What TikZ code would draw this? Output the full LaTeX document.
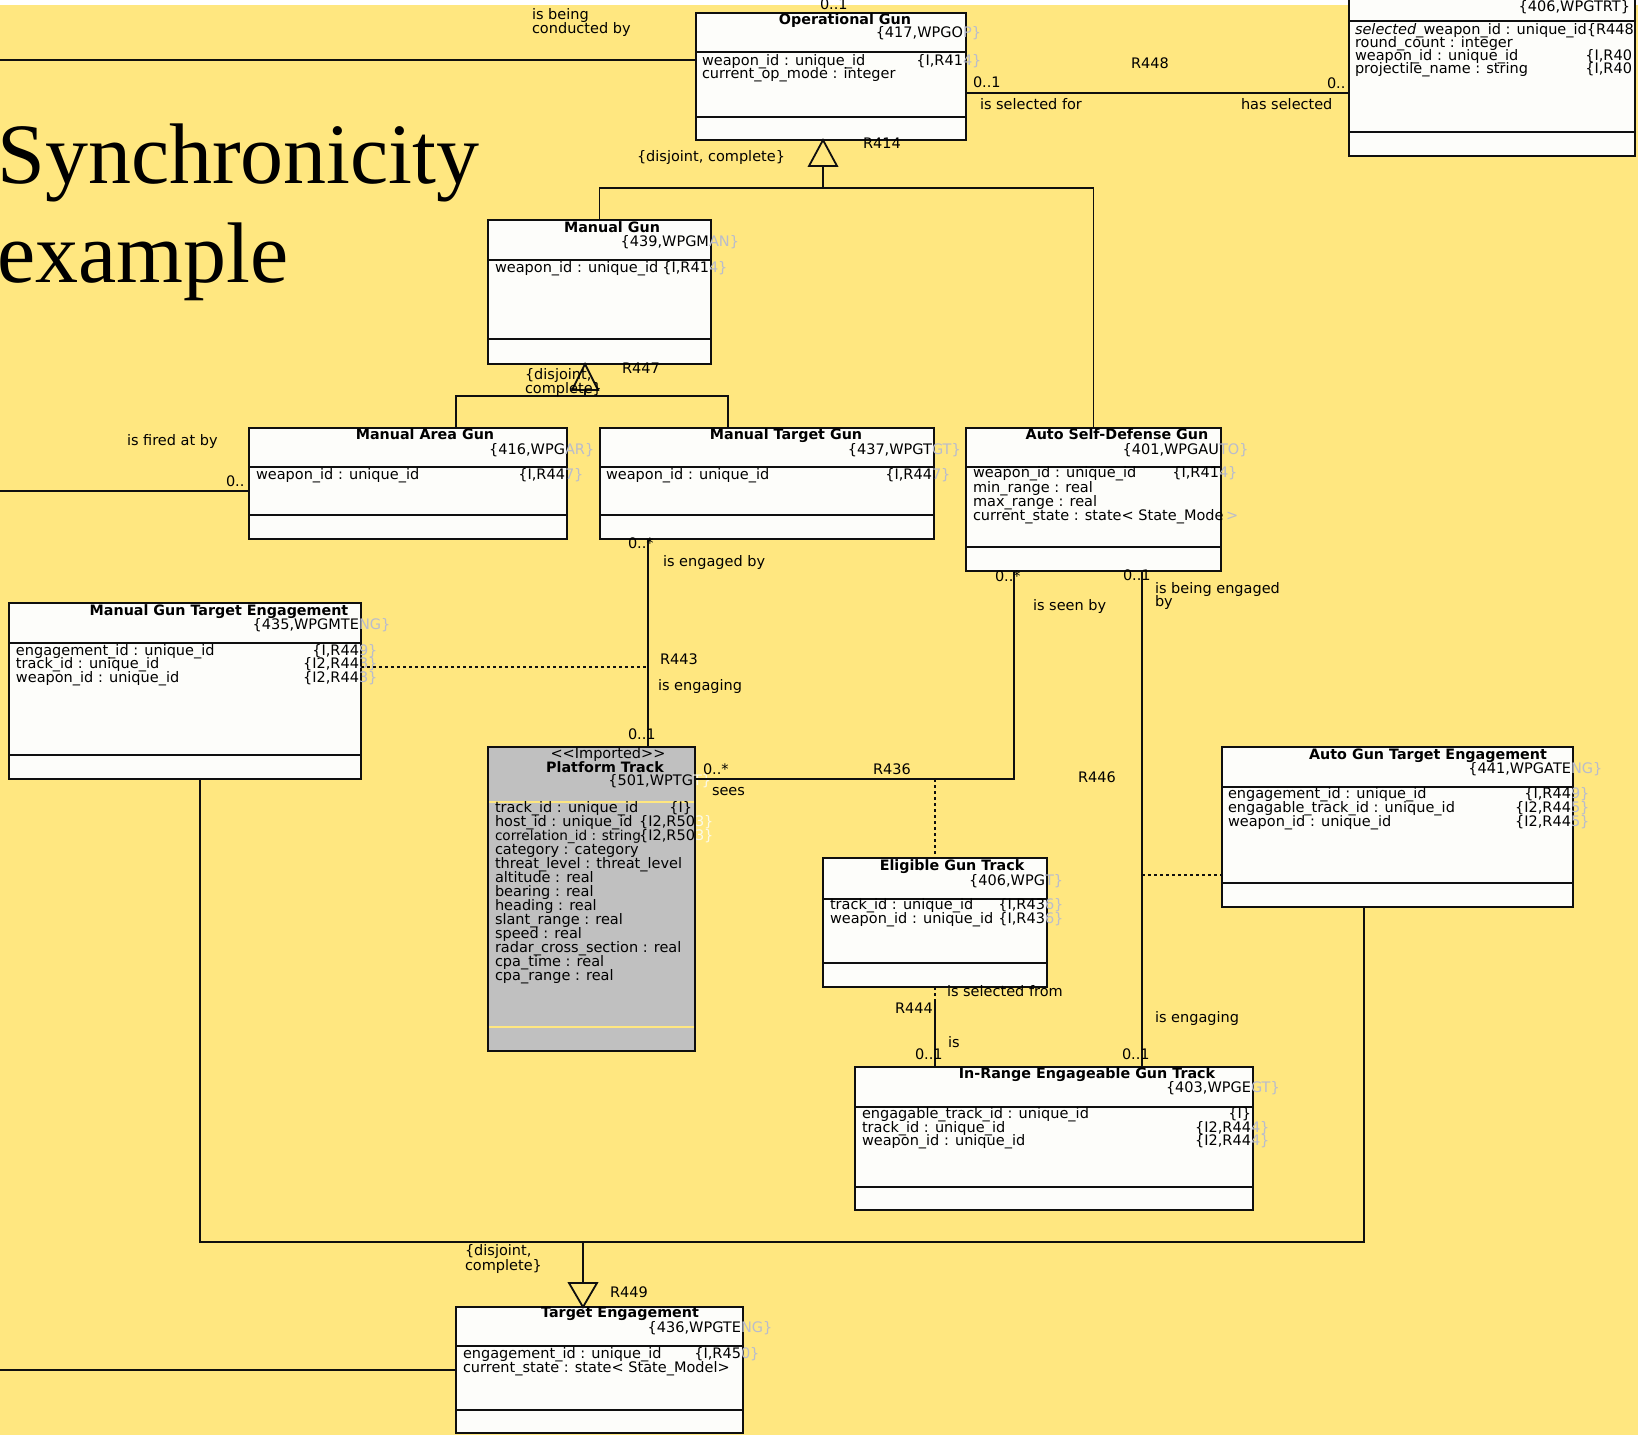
\documentclass[tikz,border=0pt]{standalone}
\usepackage{fontspec}
\newfontfamily\umlfont{DejaVu Sans}
\newfontfamily\titlefont{Liberation Serif}
\usetikzlibrary{calc}

\definecolor{paper}{RGB}{255,231,128}
\definecolor{boxfill}{RGB}{253,253,250}
\definecolor{trackfill}{RGB}{192,192,192}
\definecolor{ghost}{RGB}{185,188,205}
\definecolor{paleghost}{RGB}{252,250,232}
\definecolor{ink}{RGB}{15,15,15}

% class box: name, left, top, right, bottom, header divider, attribute divider
\newcommand\classbox[7]{%
  \node[classframe, minimum width={(#4)-(#2)}, minimum height={(#5)-(#3)}] (#1) at (#2,#3) {};
  \draw[divline] (#2,#6) -- (#4,#6);
  \draw[divline] (#2,#7) -- (#4,#7);
}
% text helpers: left aligned, centred bold title, right aligned with clipped overflow
\newcommand\txtl[4]{\node[lbl,anchor=mid west] (#1) at (#2,#3) {#4};}
\newcommand\txtc[4]{\node[ttl,anchor=mid] (#1) at (#2,#3) {#4};}
\newcommand\txtr[5]{\node[lbl,anchor=mid east] (#1) at (#2,#3) {#4};%
  \node[gh,anchor=mid west] (#1g) at (#1.mid east) {#5};}
\newcommand\txtrp[5]{\node[lbl,anchor=mid east] (#1) at (#2,#3) {#4};%
  \node[pgh,anchor=mid west] (#1g) at (#1.mid east) {#5};}

\begin{document}
\begin{tikzpicture}[x=1pt,y=-1pt,
  classframe/.style={draw=ink, line width=1.8pt, fill=boxfill, inner sep=0pt, outer sep=0pt, anchor=north west},
  divline/.style={draw=ink, line width=1.8pt},
  conn/.style={draw=ink, line width=1.8pt},
  dotconn/.style={draw=ink, line width=1.6pt, dash pattern=on 3pt off 3pt},
  lbl/.style={font=\umlfont\fontsize{14.5}{14}\selectfont, text=black, inner sep=0pt, outer sep=0pt},
  ttl/.style={lbl, font=\umlfont\bfseries\fontsize{14.3}{14}\selectfont},
  gh/.style={lbl, text=ghost},
  pgh/.style={lbl, text=paleghost}]

\useasboundingbox (0,0) rectangle (1638,1435);
\clip (0,0) rectangle (1638,1435);
\fill[white] (0,0) rectangle (1638,5);
\fill[paper] (0,5) rectangle (1638,1435);

% heading
\node[anchor=base west, inner sep=0pt, font=\titlefont\fontsize{86}{86}\selectfont] (head1) at (-3,183) {Synchronicity};
\node[anchor=base west, inner sep=0pt, font=\titlefont\fontsize{86}{86}\selectfont] (head2) at (-3,282) {example};

% ---------------- classes ----------------
\classbox{og}{696}{13}{966}{140}{52}{117}
\txtc{og1}{845}{22}{Operational Gun}
\txtr{og2}{963}{35}{\{417,WPGO}{P\}}
\txtl{og3}{702}{63}{weapon\_id : unique\_id}
\txtl{og4}{702}{76}{current\_op\_mode : integer}
\txtr{og5}{963}{63}{\{I,R41}{4\}}

\classbox{ws}{1349}{-30}{1635}{156}{21}{132}
\txtl{ws1}{1355}{32}{\textit{selected\_}weapon\_id : unique\_id\{R448}
\txtl{ws2}{1355}{45}{round\_count : integer}
\txtl{ws3}{1355}{58}{weapon\_id : unique\_id}
\txtl{ws4}{1355}{71}{projectile\_name : string}
\node[lbl,anchor=mid east] (ws5) at (1632,58) {\{I,R40};
\node[lbl,anchor=mid east] (ws6) at (1632,71) {\{I,R40};
\node[lbl,anchor=mid east] (ws7) at (1630,9) {\{406,WPGTRT\}};

\classbox{mg}{488}{220}{711}{364}{260}{339}
\txtc{mg1}{612}{230}{Manual Gun}
\txtr{mg2}{709}{244}{\{439,WPGM}{AN\}}
\txtl{mg3}{495}{270}{weapon\_id : unique\_id}
\txtr{mg4}{709}{270}{\{I,R41}{4\}}

\classbox{mag}{249}{428}{567}{539}{467}{515}
\txtc{mag1}{425}{437}{Manual Area Gun}
\txtr{mag2}{565}{452}{\{416,WPG}{AR\}}
\txtl{mag3}{256}{477}{weapon\_id : unique\_id}
\txtr{mag4}{565}{477}{\{I,R44}{7\}}

\classbox{mtg}{600}{428}{934}{539}{467}{515}
\txtc{mtg1}{786}{437}{Manual Target Gun}
\txtr{mtg2}{932}{452}{\{437,WPGT}{GT\}}
\txtl{mtg3}{606}{477}{weapon\_id : unique\_id}
\txtr{mtg4}{932}{477}{\{I,R44}{7\}}

\classbox{asdg}{966}{428}{1221}{571}{467}{547}
\txtc{asdg1}{1117}{437}{Auto Self-Defense Gun}
\txtr{asdg2}{1219}{452}{\{401,WPGAU}{TO\}}
\txtl{asdg3}{973}{475}{weapon\_id : unique\_id}
\txtl{asdg4}{973}{490}{min\_range : real}
\txtl{asdg5}{973}{504}{max\_range : real}
\txtl{asdg6}{973}{518}{current\_state : state< State\_Mode}
\txtr{asdg7}{1219}{475}{\{I,R41}{4\}}
\node[gh,anchor=mid west] (asdg8) at (1226,518) {>};

\classbox{mgte}{9}{603}{361}{779}{643}{755}
\txtc{mgte1}{219}{613}{Manual Gun Target Engagement}
\txtr{mgte2}{359}{627}{\{435,WPGMTE}{NG\}}
\txtl{mgte3}{16}{653}{engagement\_id : unique\_id}
\txtl{mgte4}{16}{666}{track\_id : unique\_id}
\txtl{mgte5}{16}{680}{weapon\_id : unique\_id}
\txtr{mgte6}{359}{653}{\{I,R44}{9\}}
\txtr{mgte7}{359}{666}{\{I2,R44}{3\}}
\txtr{mgte8}{359}{680}{\{I2,R44}{3\}}

% imported class, shaded
\node[classframe, fill=trackfill, minimum width=207, minimum height=304] (pt) at (488,747) {};
\draw[divline, draw=paper] (489,802) -- (694,802);
\draw[divline, draw=paper] (489,1027) -- (694,1027);
\node[lbl,anchor=mid] (pt0) at (608,756) {<<Imported>>};
\txtc{pt1}{605}{770}{Platform Track}
\txtrp{pt2}{693}{783}{\{501,WPTG}{T\}}
\txtl{pt3}{495}{810}{track\_id : unique\_id}
\txtl{pt4}{495}{824}{host\_id : unique\_id}
\node[lbl,anchor=mid west,font=\umlfont\fontsize{13.6}{14}\selectfont] (pt5) at (495,838) {correlation\_id : string};
\txtl{pt6}{495}{852}{category : category}
\txtl{pt7}{495}{866}{threat\_level : threat\_level}
\txtl{pt8}{495}{880}{altitude : real}
\txtl{pt9}{495}{894}{bearing : real}
\txtl{pt10}{495}{908}{heading : real}
\txtl{pt11}{495}{922}{slant\_range : real}
\txtl{pt12}{495}{936}{speed : real}
\txtl{pt13}{495}{950}{radar\_cross\_section : real}
\txtl{pt14}{495}{964}{cpa\_time : real}
\txtl{pt15}{495}{978}{cpa\_range : real}
\node[lbl,anchor=mid east] (pt16) at (692,810) {\{I\}};
\txtrp{pt17}{695}{824}{\{I2,R50}{3\}}
\txtrp{pt18}{695}{838}{\{I2,R50}{3\}}

\classbox{egt}{823}{858}{1047}{987}{899}{963}
\txtc{egt1}{952}{868}{Eligible Gun Track}
\txtr{egt2}{1045}{883}{\{406,WPG}{T\}}
\txtl{egt3}{830}{907}{track\_id : unique\_id}
\txtl{egt4}{830}{921}{weapon\_id : unique\_id}
\txtr{egt5}{1045}{907}{\{I,R43}{6\}}
\txtr{egt6}{1045}{921}{\{I,R43}{6\}}

\classbox{agte}{1222}{747}{1573}{907}{787}{883}
\txtc{agte1}{1428}{757}{Auto Gun Target Engagement}
\txtr{agte2}{1571}{771}{\{441,WPGATE}{NG\}}
\txtl{agte3}{1228}{796}{engagement\_id : unique\_id}
\txtl{agte4}{1228}{810}{engagable\_track\_id : unique\_id}
\txtl{agte5}{1228}{824}{weapon\_id : unique\_id}
\txtr{agte6}{1571}{796}{\{I,R44}{9\}}
\txtr{agte7}{1571}{810}{\{I2,R44}{5\}}
\txtr{agte8}{1571}{824}{\{I2,R44}{5\}}

\classbox{irgt}{855}{1067}{1253}{1210}{1107}{1187}
\txtc{irgt1}{1087}{1076}{In-Range Engageable Gun Track}
\txtr{irgt2}{1251}{1090}{\{403,WPGE}{GT\}}
\txtl{irgt3}{862}{1116}{engagable\_track\_id : unique\_id}
\txtl{irgt4}{862}{1130}{track\_id : unique\_id}
\txtl{irgt5}{862}{1143}{weapon\_id : unique\_id}
\node[lbl,anchor=mid east] (irgt6) at (1251,1116) {\{I\}};
\txtr{irgt7}{1251}{1130}{\{I2,R44}{4\}}
\txtr{irgt8}{1251}{1143}{\{I2,R44}{4\}}

\classbox{te}{456}{1307}{743}{1433}{1346}{1410}
\txtc{te1}{620}{1315}{Target Engagement}
\txtr{te2}{741}{1330}{\{436,WPGTE}{NG\}}
\txtl{te3}{463}{1356}{engagement\_id : unique\_id}
\txtl{te4}{463}{1370}{current\_state : state< State\_Model>}
\txtr{te5}{741}{1356}{\{I,R45}{0\}}

% ---------------- associations ----------------
\coordinate (edgeA) at (0,60);
\draw[conn] (edgeA) -- (og.west |- edgeA);
\txtl{la1}{532}{17}{is being}
\txtl{la2}{532}{31}{conducted by}
\txtl{la3}{820}{7}{0..1}

\draw[conn] (og.east |- 0,93) -- (ws.west |- 0,93);
\txtl{lb1}{973}{85}{0..1}
\txtl{lb2}{980}{107}{is selected for}
\txtl{lb3}{1131}{66}{R448}
\txtl{lb4}{1241}{107}{has selected}
\txtl{lb5}{1327}{86}{0..}

% R414 generalisation
\coordinate (t414) at (og.south -| 823,0);
\coordinate (j414) at (823,188);
\draw[conn] (t414) -- ++(-14,26) -- ++(28,0) -- cycle;
\draw[conn] ($(t414)+(0,26)$) -- (j414);
\draw[conn] (mg.north) |- (j414) -| (asdg.north);
\txtl{lc1}{637}{159}{\{disjoint, complete\}}
\txtl{lc2}{863}{146}{R414}

% R447 generalisation
\coordinate (t447) at (mg.south -| 585,0);
\coordinate (j447) at (585,396);
\draw[conn] (t447) -- ++(-13,26) -- ++(26,0) -- cycle;
\draw[conn] ($(t447)+(0,26)$) -- (j447);
\draw[conn] (mag.north -| 456,0) |- (j447) -| (mtg.north -| 728,0);
\txtl{ld1}{525}{377}{\{disjoint,}
\txtl{ld2}{525}{391}{complete\}}
\txtl{ld3}{622}{371}{R447}

\coordinate (edgeB) at (0,491);
\draw[conn] (edgeB) -- (mag.west |- edgeB);
\txtl{le1}{127}{443}{is fired at by}
\txtl{le2}{226}{484}{0..}

% R443
\coordinate (m443) at (648,667);
\draw[conn] (mtg.south -| m443) -- (pt.north -| m443);
\draw[dotconn] (mgte.east |- m443) -- (m443);
\txtl{lf1}{628}{546}{0..*}
\txtl{lf2}{663}{564}{is engaged by}
\txtl{lf3}{660}{662}{R443}
\txtl{lf4}{658}{688}{is engaging}
\txtl{lf5}{628}{737}{0..1}

% R436
\coordinate (m436) at (935,779);
\draw[conn] (pt.east |- m436) -| (asdg.south -| 1014,0);
\draw[dotconn] (m436) -- (egt.north -| m436);
\txtl{lg1}{703}{772}{0..*}
\txtl{lg2}{873}{772}{R436}
\txtl{lg3}{712}{793}{sees}
\txtl{lg4}{995}{579}{0..*}
\txtl{lg5}{1033}{608}{is seen by}

% R446
\coordinate (m446) at (1142,875);
\draw[conn] (asdg.south -| m446) -- (irgt.north -| m446);
\draw[dotconn] (m446) -- (agte.west |- m446);
\txtl{lh1}{1123}{578}{0..1}
\txtl{lh2}{1155}{591}{is being engaged}
\txtl{lh3}{1155}{604}{by}
\txtl{lh4}{1078}{780}{R446}
\txtl{lh5}{1155}{1020}{is engaging}
\txtl{lh6}{1122}{1057}{0..1}

% R444
\coordinate (m444) at (935,1000);
\draw[dotconn] (egt.south -| m444) -- (m444);
\draw[conn] (m444) -- (irgt.north -| m444);
\txtl{li1}{947}{994}{is selected from}
\txtl{li2}{895}{1011}{R444}
\txtl{li3}{948}{1045}{is}
\txtl{li4}{915}{1057}{0..1}

% R449 generalisation
\coordinate (t449) at (te.north -| 583,0);
\coordinate (j449) at (583,1242);
\draw[conn] (t449) -- ++(-14,-24) -- ++(28,0) -- cycle;
\draw[conn] ($(t449)+(0,-24)$) -- (j449);
\draw[conn] (mgte.south -| 200,0) |- (j449) -| (agte.south -| 1364,0);
\txtl{lj1}{465}{1253}{\{disjoint,}
\txtl{lj2}{465}{1268}{complete\}}
\txtl{lj3}{610}{1295}{R449}

\coordinate (edgeC) at (0,1370);
\draw[conn] (edgeC) -- (te.west |- edgeC);
\end{tikzpicture}
\end{document}
